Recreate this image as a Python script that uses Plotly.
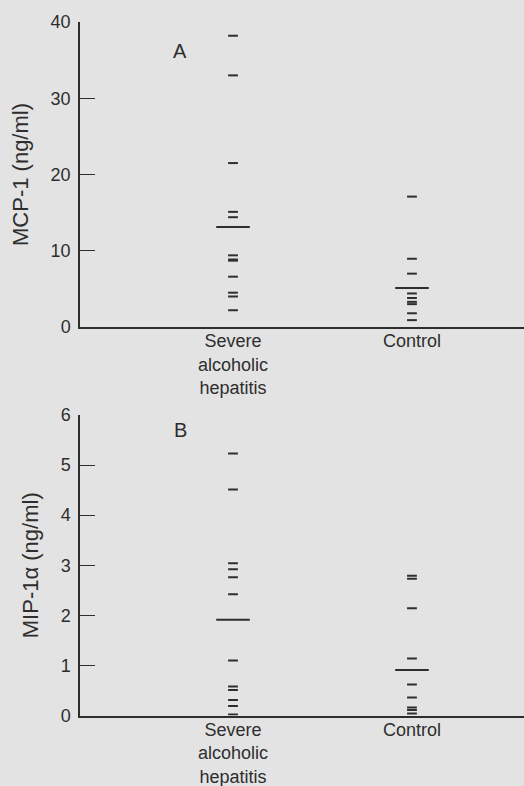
import plotly.graph_objects as go

# ---- data ----
groups = ["Severe<br>alcoholic<br>hepatitis", "Control"]

mcp1_severe = [38.2, 33.0, 21.5, 15.1, 14.4, 9.4, 8.85, 8.7, 6.6, 4.5, 4.0, 2.2]
mcp1_severe_mean = 13.1
mcp1_control = [17.1, 8.95, 7.0, 4.4, 3.8, 3.3, 3.0, 1.8, 0.9]
mcp1_control_mean = 5.1

mip_severe = [5.23, 4.51, 3.04, 2.92, 2.76, 2.42, 1.10, 0.58, 0.51, 0.31, 0.19, 0.02]
mip_severe_mean = 1.91
mip_control = [2.79, 2.73, 2.14, 1.14, 0.62, 0.36, 0.16, 0.11, 0.04]
mip_control_mean = 0.91

mcp1_ticks = [0, 10, 20, 30, 40]
mip_ticks = [0, 1, 2, 3, 4, 5, 6]

INK = "#2e2e2e"
BG = "#e3e3e3"
FONT = "Liberation Sans, Arial, Helvetica, sans-serif"

fig = go.Figure()

def add_points(values, mean, group, xa, ya):
    fig.add_trace(go.Scatter(
        x=[group] * len(values), y=values, mode="markers",
        marker=dict(symbol="line-ew", size=7, line=dict(width=2, color=INK)),
        xaxis=xa, yaxis=ya, showlegend=False, hoverinfo="y"))
    fig.add_trace(go.Scatter(
        x=[group], y=[mean], mode="markers",
        marker=dict(symbol="line-ew", size=24, line=dict(width=2, color=INK)),
        xaxis=xa, yaxis=ya, showlegend=False, hoverinfo="y"))

add_points(mcp1_severe, mcp1_severe_mean, groups[0], "x", "y")
add_points(mcp1_control, mcp1_control_mean, groups[1], "x", "y")
add_points(mip_severe, mip_severe_mean, groups[0], "x2", "y2")
add_points(mip_control, mip_control_mean, groups[1], "x2", "y2")

H = 786.0
def dom(top_px, bot_px):
    return [1 - bot_px / H, 1 - top_px / H]

xcommon = dict(
    type="category", categoryorder="array", categoryarray=groups,
    range=[-0.855, 1.626], showgrid=False, zeroline=False,
    showline=True, linecolor=INK, linewidth=1.5, ticks="",
    tickfont=dict(family=FONT, size=18, color=INK),
    automargin=False, fixedrange=True,
)
ycommon = dict(
    showgrid=False, zeroline=False, showline=True, linecolor=INK, linewidth=1.5,
    ticks="inside", ticklen=15, tickwidth=1.2, tickcolor=INK,
    tickfont=dict(family=FONT, size=18, color=INK),
    ticklabelstandoff=4, automargin=False, fixedrange=True,
)

fig.update_layout(
    width=524, height=786,
    margin=dict(l=80, r=0, t=0, b=0),
    paper_bgcolor=BG, plot_bgcolor=BG,
    font=dict(family=FONT, color=INK),
    xaxis=dict(**xcommon, domain=[0, 1], anchor="y", ticklabelstandoff=-3),
    yaxis=dict(**ycommon, domain=dom(22, 327), range=[0, 40],
               tickvals=mcp1_ticks, anchor="x",
               title=dict(text="MCP-1 (ng/ml)", font=dict(family=FONT, size=22, color=INK), standoff=16)),
    xaxis2=dict(**xcommon, domain=[0, 1], anchor="y2", ticklabelstandoff=-3),
    yaxis2=dict(**ycommon, domain=dom(415, 715.5), range=[0, 6],
                tickvals=mip_ticks, anchor="x2",
                title=dict(text="MIP-1α (ng/ml)", font=dict(family=FONT, size=22, color=INK), standoff=16)),
    annotations=[
        dict(text="A", x=107.5 / 524, y=1 - 38 / H, xref="paper", yref="paper",
             showarrow=False, font=dict(family=FONT, size=20, color=INK)),
        dict(text="B", x=108 / 524, y=1 - 430 / H, xref="paper", yref="paper",
             showarrow=False, font=dict(family=FONT, size=20, color=INK)),
    ],
)

fig.write_html(
    "out.html",
    config={"displayModeBar": False},
    post_script="document.body.style.margin='0px';document.body.style.background='#e3e3e3';",
)
